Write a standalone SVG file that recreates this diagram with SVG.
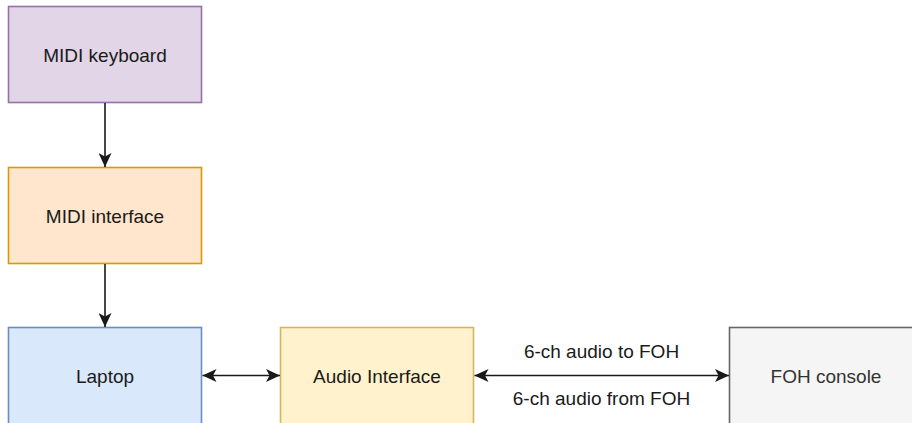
<svg xmlns="http://www.w3.org/2000/svg" width="912" height="423" viewBox="0 0 912 423">
<style>
.box{stroke-width:1.6}
.lbl{font-family:"Liberation Sans",Arial,sans-serif;font-size:19px;fill:#1a1a1a;text-anchor:middle}
.edge{stroke:#1a1a1a;stroke-width:1.6;fill:none}
</style>
<defs>
<marker id="arr" markerUnits="userSpaceOnUse" markerWidth="15" markerHeight="13" refX="14" refY="6.5" orient="auto-start-reverse" viewBox="0 0 15 13">
<path d="M0,0 L14,6.5 L0,13 L3.5,6.5 Z" fill="#1a1a1a"/>
</marker>
</defs>
<rect width="912" height="423" fill="#ffffff"/>
<g id="midi-keyboard">
<rect class="box" x="8.5" y="6.5" width="193" height="96" fill="#e1d5e7" stroke="#9673a6"/>
<text class="lbl" x="105" y="61.5">MIDI keyboard</text>
</g>
<g id="midi-interface">
<rect class="box" x="8.5" y="167.5" width="193" height="96" fill="#ffe6cc" stroke="#d79b00"/>
<text class="lbl" x="105" y="222.5">MIDI interface</text>
</g>
<g id="laptop">
<rect class="box" x="8.5" y="327.5" width="193" height="100" fill="#dae8fc" stroke="#6c8ebf"/>
<text class="lbl" x="105" y="382.5">Laptop</text>
</g>
<g id="audio-interface">
<rect class="box" x="280.5" y="327.5" width="193" height="100" fill="#fff2cc" stroke="#d6b656"/>
<text class="lbl" x="377" y="382.5">Audio Interface</text>
</g>
<g id="foh-console">
<rect class="box" x="729.5" y="327.5" width="193" height="100" fill="#f5f5f5" stroke="#666666"/>
<text class="lbl" x="826" y="382.5" style="fill:#333333">FOH console</text>
</g>
<g id="connectors">
<line class="edge" x1="105" y1="103" x2="105" y2="167" marker-end="url(#arr)"/>
<line class="edge" x1="105" y1="264" x2="105" y2="327" marker-end="url(#arr)"/>
<line class="edge" x1="202.5" y1="375.5" x2="280" y2="375.5" marker-start="url(#arr)" marker-end="url(#arr)"/>
<line class="edge" x1="474.5" y1="375.5" x2="729" y2="375.5" marker-start="url(#arr)" marker-end="url(#arr)"/>
<text class="lbl" x="601.5" y="357.5">6-ch audio to FOH</text>
<text class="lbl" x="601.5" y="405">6-ch audio from FOH</text>
</g>
</svg>
